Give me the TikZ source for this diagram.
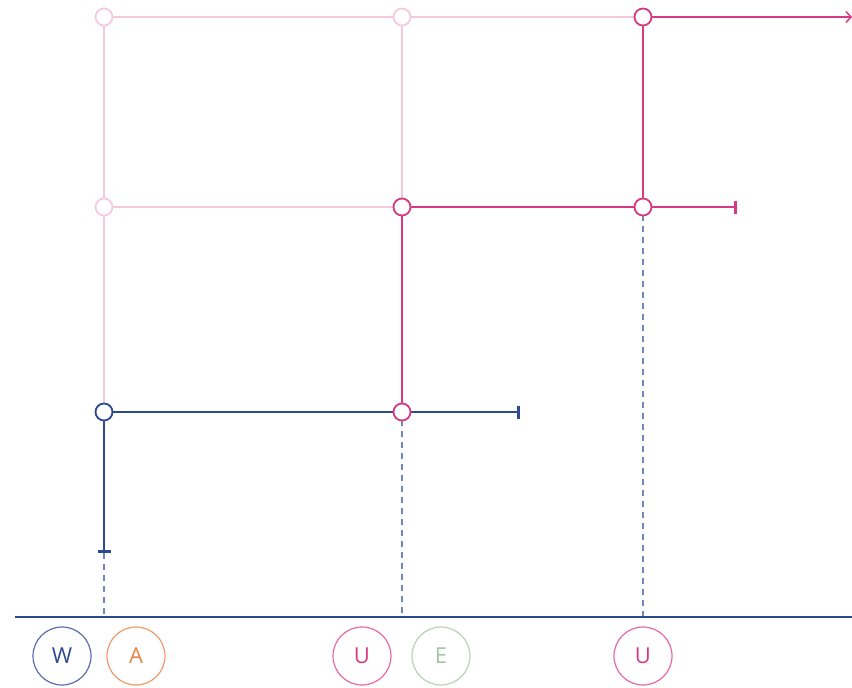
\documentclass[tikz,border=0pt]{standalone}
\usepackage{fontspec}
\setmainfont{Open Sans}
\usetikzlibrary{arrows.meta}
\definecolor{navy}{HTML}{2E4A8F}
\definecolor{dpink}{HTML}{D63A85}
\definecolor{lpink}{HTML}{F6CADD}
\definecolor{orng}{HTML}{E8804A}
\definecolor{sage}{HTML}{A6C3A6}
\definecolor{dash}{HTML}{7088BB}
\definecolor{cpink}{HTML}{E46AA6}
\definecolor{cnavy}{HTML}{5A6FA8}
\definecolor{corng}{HTML}{EE9A6A}
\definecolor{csage}{HTML}{B9D0B9}
\tikzset{
  dot/.style={circle,draw,fill=white,line width=1.8pt,minimum size=17pt,inner sep=0pt},
  lightdot/.style={dot,draw=lpink},
  pinkdot/.style={dot,draw=dpink},
  navydot/.style={dot,draw=navy},
  lightline/.style={draw=lpink,line width=1.8pt},
  pinkline/.style={draw=dpink,line width=1.8pt},
  navyline/.style={draw=navy,line width=1.8pt},
  guide/.style={draw=dash,line width=1.4pt,dash pattern=on 6pt off 5pt},
  barend/.style={-{Bar[width=13pt,line width=2.6pt]}},
  badge/.style={circle,line width=1.2pt,minimum size=58pt,inner sep=0pt,font=\fontsize{22}{22}\selectfont},
}
\begin{document}
\begin{tikzpicture}[x=1pt,y=-1pt]
\useasboundingbox (0,0) rectangle (852,688);
% coordinates
\coordinate (r1end) at (852,17);
\coordinate (r2end) at (737,207);
\coordinate (r3end) at (520,412);
\coordinate (vend) at (104,553);
\coordinate (b1) at (104,617);
\coordinate (b2) at (402,617);
\coordinate (b3) at (643,617);
\coordinate (axl) at (15,617);
\coordinate (axr) at (852,617);
% light grid
\path[lightline] (104,17) -- (643,17);
\path[lightline] (104,207) -- (402,207);
\path[lightline] (104,17) -- (104,412);
\path[lightline] (402,17) -- (402,207);
% guides
\path[guide] (vend) -- (b1);
\path[guide] (402,420) -- (b2);
\path[guide] (643,215) -- (b3);
% pink path
\path[pinkline,-{Straight Barb[length=5pt,width=11pt,line width=1.5pt]}] (643,17) -- (r1end);
\path[pinkline] (643,17) -- (643,207);
\path[pinkline,barend] (402,207) -- (r2end);
\path[pinkline] (402,207) -- (402,412);
% navy path
\path[navyline,barend] (104,412) -- (r3end);
\path[navyline,barend] (104,412) -- (vend);
% axis
\draw[navy,line width=1.8pt] (axl) -- (axr);
% dots
\node[lightdot] (n11) at (104,17) {};
\node[lightdot] (n12) at (402,17) {};
\node[pinkdot] (n13) at (643,17) {};
\node[lightdot] (n21) at (104,207) {};
\node[pinkdot] (n22) at (402,207) {};
\node[pinkdot] (n23) at (643,207) {};
\node[navydot] (n31) at (104,412) {};
\node[pinkdot] (n32) at (402,412) {};
% badges
\node[badge,draw=cnavy,text=navy] (bw) at (62,656) {W};
\node[badge,draw=corng,text=orng] (ba) at (136,656) {A};
\node[badge,draw=cpink,text=dpink] (bu1) at (362,656) {U};
\node[badge,draw=csage,text=sage] (be) at (441,656) {E};
\node[badge,draw=cpink,text=dpink] (bu2) at (643,656) {U};
\end{tikzpicture}
\end{document}
